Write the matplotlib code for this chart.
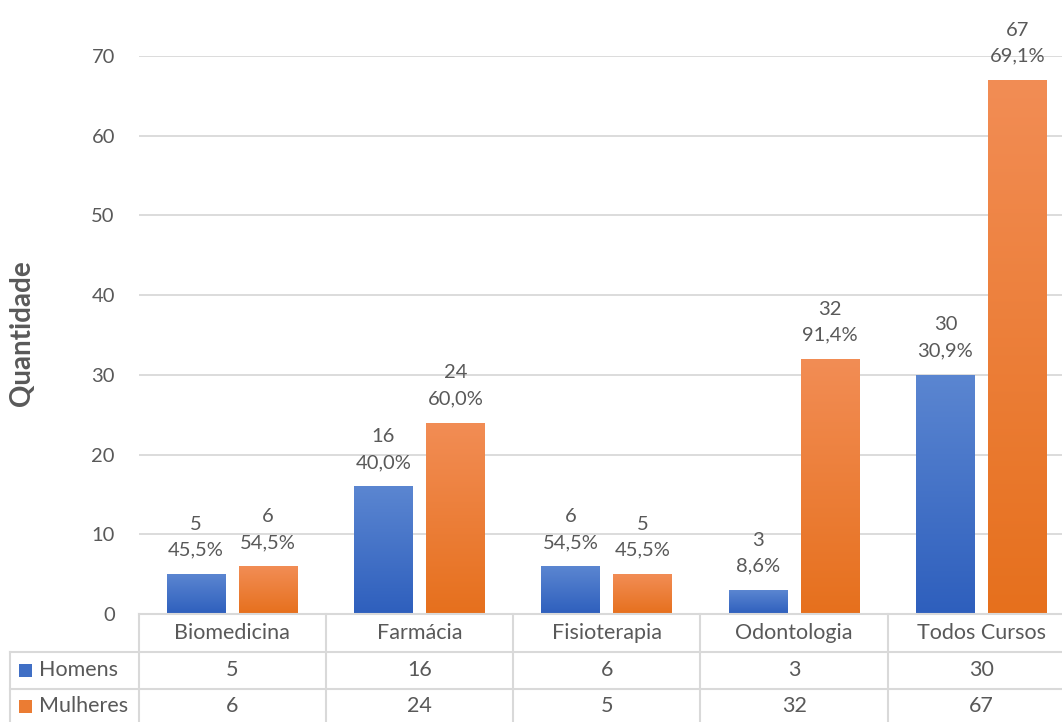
import numpy as np
import matplotlib
matplotlib.use("Agg")
import matplotlib.pyplot as plt
from matplotlib.colors import LinearSegmentedColormap
from matplotlib.patches import Rectangle

plt.rcParams['font.family'] = ['Lato', 'DejaVu Sans']

cursos = ["Biomedicina", "Farmácia", "Fisioterapia", "Odontologia", "Todos Cursos"]
homens = [5, 16, 6, 3, 30]
mulheres = [6, 24, 5, 32, 67]
pct_homens = ["45,5%", "40,0%", "54,5%", "8,6%", "30,9%"]
pct_mulheres = ["54,5%", "60,0%", "45,5%", "91,4%", "69,1%"]
yticks = [0, 10, 20, 30, 40, 50, 60, 70]

txt = "#595959"
grid = "#d9d9d9"
blue_map = LinearSegmentedColormap.from_list("b", ["#2e5fbd", "#5b86d1"])
orange_map = LinearSegmentedColormap.from_list("o", ["#e6701d", "#f28d55"])

W, H = 1062, 722
cw = 187.3  # one category column, in pixels
x0_px = 138.5
fig = plt.figure(figsize=(W / 100, H / 100), dpi=100)
# the chart runs a little past the right edge of the picture, like the original
ax = fig.add_axes([x0_px / W, 108 / H, 5 * cw / W, 558 / H])

x = np.arange(len(cursos))
bw = 0.315
off = 0.192

def gradient_bars(bars, cmap):
    grad = np.linspace(0, 1, 256).reshape(-1, 1)
    for b in bars:
        b.set_facecolor("none")
        bx, w, h = b.get_x(), b.get_width(), b.get_height()
        im = ax.imshow(grad, extent=[bx, bx + w, 0, h], origin="lower",
                       cmap=cmap, aspect="auto", zorder=3)
        im.set_clip_path(b)

hb = ax.bar(x - off, homens, bw, zorder=3, linewidth=0)
mb = ax.bar(x + off, mulheres, bw, zorder=3, linewidth=0)
gradient_bars(hb, blue_map)
gradient_bars(mb, orange_map)

for bars, vals, pcts in [(hb, homens, pct_homens), (mb, mulheres, pct_mulheres)]:
    for b, v, p in zip(bars, vals, pcts):
        ax.annotate(f"{v}\n{p}", (b.get_x() + b.get_width() / 2, v), xytext=(0, 11),
                    textcoords="offset points", ha="center", va="bottom",
                    fontsize=14.5, color=txt, linespacing=1.65, annotation_clip=False)

ax.set_xlim(-0.5, len(cursos) - 0.5)
ax.set_ylim(0, 70)
ax.set_yticks(yticks)
ax.tick_params(axis="y", length=0, labelsize=14.5, labelcolor=txt, pad=17)
ax.set_xticks([])
ax.grid(axis="y", color=grid, linewidth=1.3, zorder=0)
for s in ax.spines.values():
    s.set_visible(False)
fig.text(22 / W, 1 - 333 / H, "Quantidade", rotation=90, ha="center", va="center",
         fontsize=20, fontweight="bold", color=txt)

# data table below the plot
left = -0.5 - (x0_px - 10) / cw
tab = fig.add_axes([10 / W, 0, (x0_px - 10 + 5 * cw) / W, 108 / H])
tab.set_xlim(left, len(cursos) - 0.5)
tab.set_ylim(108, 0)
tab.axis("off")
lc = dict(color=grid, linewidth=1.5, clip_on=False)
tab.plot([-0.5, len(cursos) - 0.5], [0, 0], **lc)
for yy in [38, 75]:
    tab.plot([left, len(cursos) - 0.5], [yy, yy], **lc)
for xx in np.arange(len(cursos) + 1) - 0.5:
    tab.plot([xx, xx], [0, 110], **lc)
tab.plot([left, left], [38, 110], **lc)

fs = 15.5
for i, c in enumerate(cursos):
    tab.text(i, 19, c, ha="center", va="center", fontsize=fs, color=txt)
    tab.text(i, 56, str(homens[i]), ha="center", va="center", fontsize=fs, color=txt)
    tab.text(i, 92, str(mulheres[i]), ha="center", va="center", fontsize=fs, color=txt)

for yy, name, cmap in [(56, "Homens", blue_map), (92, "Mulheres", orange_map)]:
    tab.add_patch(Rectangle((left + 9 / cw, yy - 6.5), 13 / cw, 13, facecolor=cmap(0.4),
                            edgecolor="none", clip_on=False))
    tab.text(left + 29 / cw, yy, name, ha="left", va="center", fontsize=fs, color=txt)

fig.savefig("out.png", dpi=100)
